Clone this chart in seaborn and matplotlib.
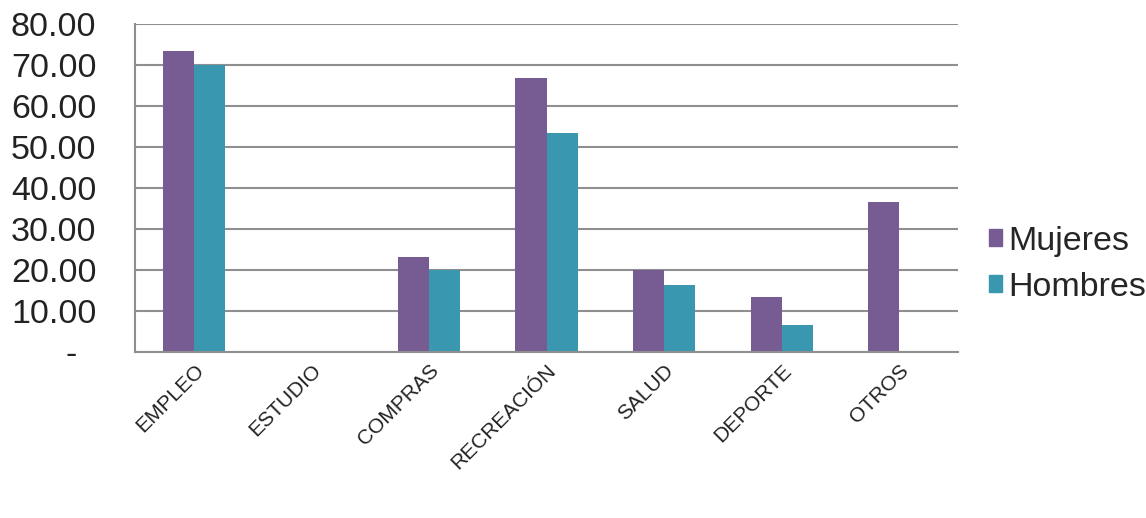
import matplotlib
matplotlib.use('Agg')
import matplotlib.pyplot as plt
import seaborn as sns
import pandas as pd

categorias = ['EMPLEO', 'ESTUDIO', 'COMPRAS', 'RECREACIÓN', 'SALUD', 'DEPORTE', 'OTROS']
mujeres = [73.3, 0.0, 23.1, 66.7, 20.0, 13.4, 36.5]
hombres = [69.9, 0.0, 20.1, 53.3, 16.4, 6.7, 0.0]
series = ['Mujeres', 'Hombres']
colores = ['#775C94', '#3997B0']
yticks = [0, 10, 20, 30, 40, 50, 60, 70, 80]
ylabels = ['-  ', '10.00', '20.00', '30.00', '40.00', '50.00', '60.00', '70.00', '80.00']

df = pd.DataFrame({
    'cat': categorias * 2,
    'valor': mujeres + hombres,
    'serie': [series[0]] * len(categorias) + [series[1]] * len(categorias),
})

sns.set_style('white')
plt.rcParams['font.family'] = ['Liberation Sans', 'DejaVu Sans']

fig = plt.figure(figsize=(11.46, 5.18), dpi=100)
ax = fig.add_axes([0.118, 0.320, 0.718, 0.634])

sns.barplot(data=df, x='cat', y='valor', hue='serie', hue_order=series,
            palette=colores, width=0.53, gap=0, saturation=1,
            edgecolor='none', linewidth=0, ax=ax, legend=False)

ax.set_ylim(0, 80)
ax.set_xlim(-0.5, len(categorias) - 0.5)
ax.set_yticks(yticks)
ax.set_yticklabels(ylabels, fontsize=24.5, color='#222222')
ax.set_xticks(range(len(categorias)))
ax.set_xticklabels(categorias, rotation=45, ha='right', rotation_mode='anchor',
                   fontsize=15, color='#222222')
ax.set_xlabel('')
ax.set_ylabel('')
ax.tick_params(axis='y', length=0, pad=28)
ax.tick_params(axis='x', length=0, pad=6)

ax.yaxis.grid(True, color='#8f8f8f', linewidth=1.5)
ax.set_axisbelow(True)
for s in ['top', 'right']:
    ax.spines[s].set_visible(False)
for s in ['left', 'bottom']:
    ax.spines[s].set_color('#8f8f8f')
    ax.spines[s].set_linewidth(1.5)

handles = [plt.Rectangle((0, 0), 1, 1, color=c) for c in colores]
fig.legend(handles, series, loc='center left', bbox_to_anchor=(0.851, 0.49),
           frameon=False, fontsize=24.5, handlelength=0.38, handleheight=0.38,
           handletextpad=0.2, labelspacing=0.45, borderaxespad=0)

fig.savefig('out.png', dpi=100)
